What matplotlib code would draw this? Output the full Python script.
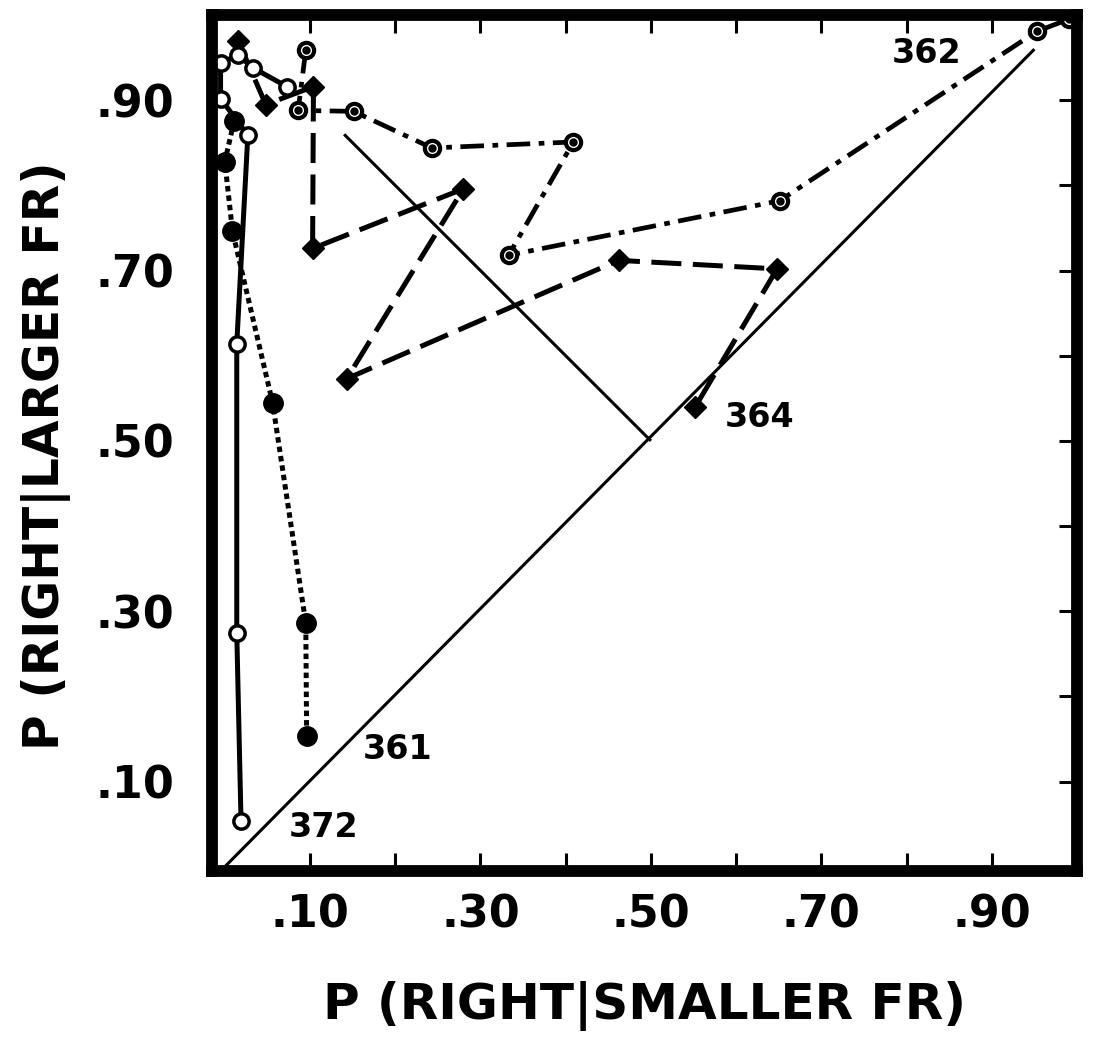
"""Choice proportions for the larger vs smaller FR schedule, four birds."""

import matplotlib.pyplot as plt

# P(right | smaller FR) vs P(right | larger FR), one point per block
s362_x = [0.095, 0.086, 0.151, 0.243, 0.409, 0.333, 0.651, 0.953, 0.990]
s362_y = [0.959, 0.888, 0.887, 0.844, 0.851, 0.718, 0.782, 0.981, 0.995]

s364_x = [0.016, 0.048, 0.104, 0.103, 0.280, 0.143, 0.462, 0.648, 0.552]
s364_y = [0.969, 0.895, 0.916, 0.726, 0.796, 0.573, 0.712, 0.702, 0.540]

s361_x = [0.011, 0.000, 0.009, 0.056, 0.095, 0.096]
s361_y = [0.876, 0.828, 0.746, 0.545, 0.286, 0.154]

s372_x = [0.073, 0.033, 0.016, -0.005, -0.005, 0.027, 0.014, 0.014, 0.019]
s372_y = [0.916, 0.938, 0.953, 0.944, 0.902, 0.859, 0.614, 0.275, 0.054]

# indifference diagonal, plus the perpendicular from its midpoint
diag_x = [0.0, 0.95]
diag_y = [0.0, 0.96]
perp_x = [0.5, 0.14]
perp_y = [0.5, 0.86]

bird_names = ["362", "364", "361", "372"]
name_x = [0.823, 0.628, 0.203, 0.116]
name_y = [0.955, 0.528, 0.138, 0.046]

tick_pos = [0.1, 0.2, 0.3, 0.4, 0.5, 0.6, 0.7, 0.8, 0.9]
tick_text = [".10", "", ".30", "", ".50", "", ".70", "", ".90"]


fig = plt.figure(figsize=(10.93, 10.40), dpi=100)
ax = fig.add_axes([0.194, 0.1625, 0.7914, 0.823])

ax.plot(diag_x, diag_y, color="black", linewidth=2.2, solid_capstyle="butt")
ax.plot(perp_x, perp_y, color="black", linewidth=2.2, solid_capstyle="butt")

# 362: dash-dot line, ringed circles with a dot in the middle
ax.plot(s362_x, s362_y, color="black", linewidth=3.4, dashes=(5, 1.8, 1.2, 1.8),
        marker="o", markersize=11, markerfacecolor="white", markeredgecolor="black",
        markeredgewidth=3)
ax.plot(s362_x, s362_y, linestyle="none", marker="o", markersize=5, color="black")

# 364: dashed line, filled diamonds
ax.plot(s364_x, s364_y, color="black", linewidth=3.6, dashes=(6, 2.3),
        marker="D", markersize=11.5)

# 361: dotted line, filled circles
ax.plot(s361_x, s361_y, color="black", linewidth=3.6, dashes=(1.1, 0.8),
        marker="o", markersize=14)

# 372: solid line, open circles
ax.plot(s372_x, s372_y, color="black", linewidth=3.6,
        marker="o", markersize=11, markerfacecolor="white", markeredgecolor="black",
        markeredgewidth=2.5)

for name, x, y in zip(bird_names, name_x, name_y):
    ax.text(x, y, name, fontsize=24, fontweight="bold", ha="center", va="center")

ax.set_xlim(-0.015, 1.0)
ax.set_ylim(-0.005, 1.0)

# heavy frame, ticks inside on three sides, none on the left
for spine in ax.spines.values():
    spine.set_linewidth(8.5)

ax.set_xticks(tick_pos, tick_text)
ax.set_yticks(tick_pos, tick_text)
ax.tick_params(direction="in", length=13, width=2.2, top=True, right=True,
               left=False, labelsize=32)
ax.tick_params(axis="x", pad=16)
ax.tick_params(axis="y", pad=27)
for lbl in ax.get_xticklabels() + ax.get_yticklabels():
    lbl.set_fontweight("bold")

ax.set_xlabel("P (RIGHT|SMALLER FR)", fontsize=36, fontweight="bold")
ax.set_ylabel("P (RIGHT|LARGER FR)", fontsize=35, fontweight="bold")
ax.xaxis.set_label_coords(0.5, -0.128)
ax.yaxis.set_label_coords(-0.163, 0.485)

fig.savefig("out.png", dpi=100)
